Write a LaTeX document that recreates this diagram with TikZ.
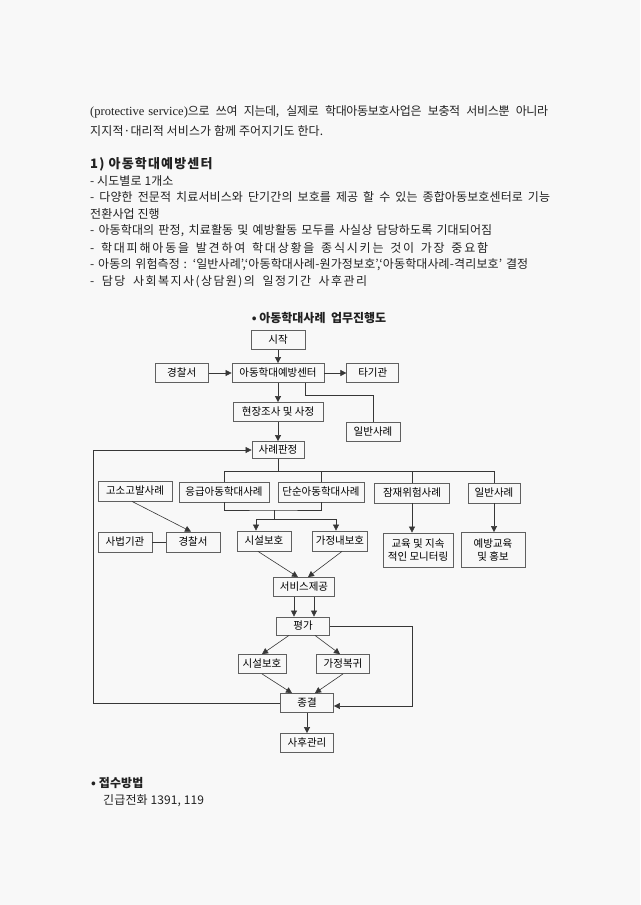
\documentclass[tikz,border=0pt]{standalone}
\usepackage{fontspec}
\setmainfont{Noto Sans CJK KR}
\newfontfamily\bodyfont[LetterSpace=1]{Noto Sans CJK KR}
\newfontfamily\tightfont[LetterSpace=-3]{Noto Sans CJK KR}
\newfontfamily\widefont[LetterSpace=12]{Noto Sans CJK KR}
\newfontfamily\widerfont[LetterSpace=15]{Noto Sans CJK KR}
\newfontfamily\headfont[LetterSpace=9]{Noto Sans CJK KR}
\newfontfamily\latinfont{Liberation Serif}
\newfontfamily\boxfont{Noto Sans CJK KR}
\usetikzlibrary{arrows.meta,positioning}
\definecolor{paper}{RGB}{248,248,248}
\definecolor{ink}{RGB}{55,55,55}

\begin{document}
\begin{tikzpicture}[
    x=1pt, y=-1pt,
    box/.style={rectangle, draw=gray!75!black, line width=0.8pt, align=center, minimum height=19pt, inner sep=1pt, font=\boxfont\fontsize{10.5pt}{12.5pt}\selectfont},
    body/.style={anchor=west, inner sep=0pt, text=ink!60!black, font=\bodyfont\fontsize{12pt}{14pt}\selectfont},
    link/.style={draw=ink, line width=0.6pt},
    arrow/.style={link, -{Triangle[length=6pt,width=6pt]}}
]
\fill[paper] (0,0) rectangle (640,905);
\useasboundingbox (0,0) rectangle (640,905);

% Running text
\node[body, font=\tightfont\fontsize{12pt}{14pt}\selectfont] (intro1) at (90,112) {\makebox[458pt][s]{{\latinfont\fontsize{12.5pt}{14pt}\selectfont(protective\hspace{4pt}service)}으로 쓰여 지는데, 실제로 학대아동보호사업은 보충적 서비스뿐 아니라}};
\node[body] (intro2) at (90,131) {지지적·대리적 서비스가 함께 주어지기도 한다.};
\node[body, font=\headfont\bfseries\fontsize{13pt}{15pt}\selectfont] (heading) at (90,164) {1) 아동학대예방센터};
\node[body] (item1) at (90,181) {- 시도별로 1개소};
\node[body] (item2) at (90,197) {\makebox[460pt][s]{- 다양한 전문적 치료서비스와 단기간의 보호를 제공 할 수 있는 종합아동보호센터로 기능}};
\node[body] (item2b) at (90,214) {전환사업 진행};
\node[body] (item3) at (90,231) {\makebox[402pt][s]{- 아동학대의 판정, 치료활동 및 예방활동 모두를 사실상 담당하도록 기대되어짐}};
\node[body, font=\widerfont\fontsize{12pt}{14pt}\selectfont] (item4) at (90,248) {\makebox[398pt][s]{- 학대피해아동을 발견하여 학대상황을 종식시키는 것이 가장 중요함}};
\node[body] (item5) at (90,265) {\makebox[438pt][s]{- 아동의 위험측정 : ‘일반사례’,‘아동학대사례-원가정보호’,‘아동학대사례-격리보호’ 결정}};
\node[body, font=\widefont\fontsize{12pt}{14pt}\selectfont] (item6) at (90,282) {\makebox[277pt][s]{- 담당 사회복지사(상담원)의 일정기간 사후관리}};

% Chart title
\node[text=ink!60!black, font=\bfseries\fontsize{12pt}{14pt}\selectfont] (chart) at (319,318) {• 아동학대사례\ \ 업무진행도};

% Intake
\node[box, minimum width=54pt] (start) at (278,340) {시작};
\node[box, minimum width=92pt] (centre) at (278,373) {아동학대예방센터};
\node[box, minimum width=53pt, left=23pt of centre] (police1) {경찰서};
\node[box, minimum width=52pt, right=22pt of centre] (others) {타기관};
\node[box, minimum width=90pt] (survey) at (278,412) {현장조사 및 사정};
\node[box, minimum width=54pt] (general1) at (373,432) {일반사례};

% Case types
\node[box, minimum width=52pt, minimum height=17pt] (judge) at (278,450) {사례판정};
\node[box, minimum width=74pt, minimum height=20pt] (complaint) at (135,491) {고소고발사례};
\node[box, minimum width=90pt, minimum height=20pt] (urgent) at (224,492) {응급아동학대사례};
\node[box, minimum width=86pt, minimum height=20pt] (simple) at (321,492) {단순아동학대사례};
\node[box, minimum width=75pt, minimum height=20pt] (latent) at (412,493) {잠재위험사례};
\node[box, minimum width=52pt, minimum height=20pt] (general2) at (494,493) {일반사례};

% Measures
\node[box, minimum width=54pt, minimum height=20pt] (court) at (125,542) {사법기관};
\node[box, minimum width=54pt, minimum height=20pt] (police2) at (193,542) {경찰서};
\node[box, minimum width=54pt, minimum height=20pt] (shelter1) at (264,541) {시설보호};
\node[box, minimum width=55pt, minimum height=20pt] (inhome) at (340,541) {가정내보호};
\node[box, minimum width=70pt, minimum height=34pt] (monitor) at (418,550) {교육 및 지속\\적인 모니터링};
\node[box, minimum width=64pt, minimum height=35pt] (prevent) at (493,550) {예방교육\\및 홍보};

% Services and closing
\node[box, minimum width=61pt] (service) at (304,587) {서비스제공};
\node[box, minimum width=53pt, minimum height=18pt] (assess) at (303,626) {평가};
\node[box, minimum width=48pt] (shelter2) at (262,664) {시설보호};
\node[box, minimum width=53pt] (homecoming) at (343,664) {가정복귀};
\node[box, minimum width=53pt] (close) at (307,703) {종결};
\node[box, minimum width=53pt] (aftercare) at (307,743) {사후관리};

% Helper points
\coordinate (leftrail) at (93,0);
\coordinate (rightrail) at (412,0);
\coordinate (join) at (274,510);
\coordinate (fork) at (274,519);

% Footer
\node[body, font=\bodyfont\bfseries\fontsize{12pt}{14pt}\selectfont] (howto) at (91,783) {• 접수방법};
\node[body] (hotline) at (103,801) {긴급전화 1391, 119};

% Arrows
\draw[arrow] (start) -- (centre);
\draw[arrow] (police1) -- (centre);
\draw[arrow] (centre) -- (others);
\draw[arrow] (centre) -- (survey);
\draw[link] ([xshift=-19pt]centre.south east) -- ++(0,12) -| (general1.north);
\draw[arrow] (survey) -- (judge);

\draw[link] (judge.south) -- ++(0,12) coordinate (bar);
\draw[link] (urgent.north) |- (bar) -| (general2.north);
\draw[link] (simple.north) -- (simple.north |- bar);
\draw[link] (latent.north) -- (latent.north |- bar);

\draw[link] (urgent.south) |- (join) -| (simple.south);
\draw[link] (join) -- (fork);
\draw[arrow] (fork) -| ([xshift=-8pt]shelter1.north);
\draw[arrow] (fork) -| ([xshift=-4pt]inhome.north);
\draw[arrow] ([xshift=-3pt]complaint.south) -- ([xshift=-2pt]police2.north);
\draw[link] (court) -- (police2);
\draw[arrow] (latent.south) -- (latent.south |- monitor.north);
\draw[arrow] (general2.south) -- (general2.south |- prevent.north);

\draw[arrow] ([xshift=-6pt]shelter1.south) -- ([xshift=-6pt]service.north);
\draw[arrow] ([xshift=2pt]inhome.south) -- ([xshift=4pt]service.north);
\draw[arrow] ([xshift=-10pt]service.south) -- ([xshift=-10pt]service.south |- assess.north);
\draw[arrow] ([xshift=10pt]service.south) -- ([xshift=10pt]service.south |- assess.north);
\draw[arrow] ([xshift=-14pt]assess.south) -- (shelter2.north);
\draw[arrow] ([xshift=12pt]assess.south) -- ([xshift=-3pt]homecoming.north);
\draw[arrow] (shelter2.south) -- ([xshift=-15pt]close.north);
\draw[arrow] (homecoming.south) -- ([xshift=8pt]close.north);
\draw[arrow] (assess.east) -- (assess.east -| rightrail) |- ([yshift=-3pt]close.east);
\draw[arrow] (close.west) -- (close.west -| leftrail) |- (judge.west);
\draw[arrow] (close) -- (aftercare);

\end{tikzpicture}
\end{document}
